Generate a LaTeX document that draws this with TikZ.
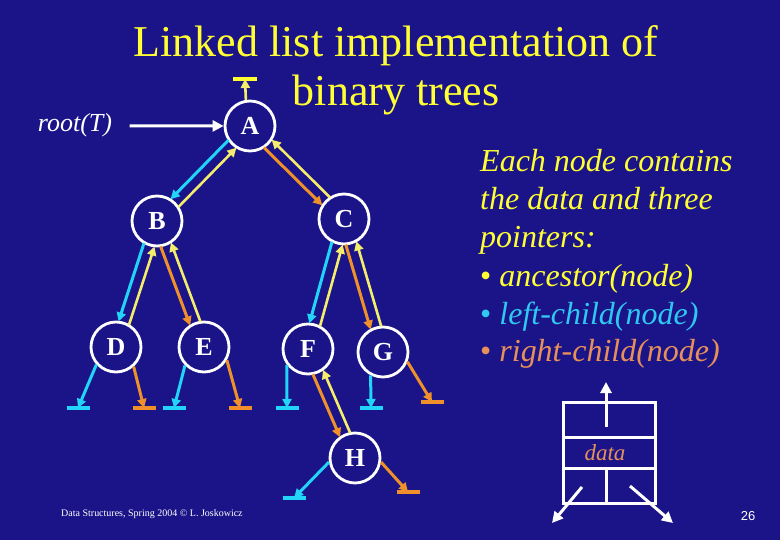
\documentclass[tikz,border=0pt]{standalone}
\usepackage{fontspec}
\setmainfont{Liberation Serif}
\newfontfamily\arialfont{Liberation Sans}
\usetikzlibrary{arrows.meta,calc}
\definecolor{bgc}{HTML}{1A1488}
\definecolor{cyanc}{HTML}{22D4F8}
\definecolor{orangec}{HTML}{F0902A}
\definecolor{ancc}{HTML}{F4EC6C}
\definecolor{titlec}{HTML}{FFFF33}
\definecolor{cyantxt}{HTML}{30C8F0}
\definecolor{orangetxt}{HTML}{E8905A}
\tikzset{
  tnode/.style={circle, draw=white, line width=2.8pt, minimum size=50pt, inner sep=0pt,
    text=white, font=\fontsize{26}{28}\selectfont\bfseries},
  ptr/.style={line width=3pt, -{Triangle[length=9pt,width=9pt]}},
  wptr/.style={ptr, white, -{Triangle[length=11pt,width=11pt]}},
  ancptr/.style={ptr, ancc, line width=2.6pt},
  nullbar/.style={line width=4pt},
  wline/.style={white, line width=3pt},
  rtext/.style={anchor=base west, inner sep=0pt, font=\fontsize{32}{38}\selectfont\itshape}
}
\newcommand{\pairlink}[3]{%
  \draw[ptr,#3,shorten <=25pt,shorten >=25pt] ($(#1)!5.5pt!-90:(#2)$) -- ($(#2)!5.5pt!90:(#1)$);
  \draw[ancptr,shorten <=25pt,shorten >=25pt] ($(#2)!5.5pt!-90:(#1)$) -- ($(#1)!5.5pt!90:(#2)$);
}
\newcommand{\nullptr}[4]{% node.anchor, coordinate name, position, colour
  \coordinate (#2) at #3;
  \draw[ptr,#4] (#1) -- (#2);
  \draw[nullbar,#4] ($(#2)+(-11.5,0)$) -- ($(#2)+(11.5,0)$);
}
\begin{document}
\begin{tikzpicture}[x=1pt,y=-1pt]
\useasboundingbox (0,0) rectangle (780,540);
\fill[bgc] (0,0) rectangle (780,540);

% title
\node[anchor=base, inner sep=0pt, text=titlec, font=\fontsize{44}{48}\selectfont] (t1) at (396,57) {Linked list implementation of};
\node[anchor=base, inner sep=0pt, text=titlec, font=\fontsize{44}{48}\selectfont] (t2) at (396,106) {binary trees};

% tree nodes
\node[tnode] (A) at (250,126) {A};
\node[tnode] (B) at (157,221) {B};
\node[tnode] (C) at (344,219) {C};
\node[tnode] (D) at (116,347) {D};
\node[tnode] (E) at (204,347) {E};
\node[tnode] (F) at (308,349) {F};
\node[tnode] (G) at (383,352) {G};
\node[tnode] (H) at (355,458) {H};

% root pointer
\node[anchor=base, text=white, font=\fontsize{26}{28}\selectfont\itshape] (root) at (75,132) {root(\textit{T})};
\draw[wptr, shorten <=14pt] (root) -- (A);

% links
\pairlink{A}{B}{cyanc}
\pairlink{A}{C}{orangec}
\pairlink{B}{D}{cyanc}
\pairlink{B}{E}{orangec}
\pairlink{C}{F}{cyanc}
\pairlink{C}{G}{orangec}
\pairlink{F}{H}{orangec}

% null pointers
\coordinate (au) at (245,79);
\draw[ancptr] (A.99) -- (au);
\draw[nullbar,titlec] ($(au)+(-12,0)$) -- ($(au)+(12,0)$);
\nullptr{D.222}{dl}{(78,408)}{cyanc}
\nullptr{D.-48}{dr}{(144,408)}{orangec}
\nullptr{E.224}{el}{(174,408)}{cyanc}
\nullptr{E.-30}{er}{(240,408)}{orangec}
\nullptr{F.217}{fl}{(287,408)}{cyanc}
\nullptr{G.242}{gl}{(371,408)}{cyanc}
\nullptr{G.-22}{gr}{(432,402)}{orangec}
\nullptr{H.189}{hl}{(294,498)}{cyanc}
\nullptr{H.-9}{hr}{(408,492)}{orangec}

% explanation text
\node[rtext, text=titlec] (l1) at (480,172) {Each node contains};
\node[rtext, text=titlec] (l2) at (480,210) {the data and three};
\node[rtext, text=titlec] (l3) at (480,248) {pointers:};
\node[rtext, text=titlec] (l4) at (480,287) {{\upshape\textbullet} ancestor(node)};
\node[rtext, text=cyantxt] (l5) at (480,325) {{\upshape\textbullet} left-child(node)};
\node[rtext, text=orangetxt] (l6) at (480,362) {{\upshape\textbullet} right-child(node)};

% record diagram
\draw[wline] (563,402) rectangle (655,503);
\draw[wline] (563,437) -- (655,437);
\draw[wline] (563,468) -- (655,468);
\draw[wline] (606,468) -- (606,503);
\node[text=orangetxt, font=\fontsize{23}{25}\selectfont\itshape] (data) at (605,453) {data};
\coordinate (rup0) at (606,427);
\coordinate (rup1) at (606,382);
\coordinate (rl0) at (582,487);
\coordinate (rl1) at (552,523);
\coordinate (rr0) at (630,486);
\coordinate (rr1) at (673,523);
\draw[wptr] (rup0) -- (rup1);
\draw[wptr] (rl0) -- (rl1);
\draw[wptr] (rr0) -- (rr1);

% footer
\node[anchor=base west, inner sep=0pt, text=white, font=\fontsize{10}{12}\selectfont] (foot) at (61,516) {Data Structures, Spring 2004 \textcopyright{} L. Joskowicz};
\node[text=white, font=\arialfont\fontsize{13}{15}\selectfont] (pg) at (748,516) {26};
\end{tikzpicture}
\end{document}
